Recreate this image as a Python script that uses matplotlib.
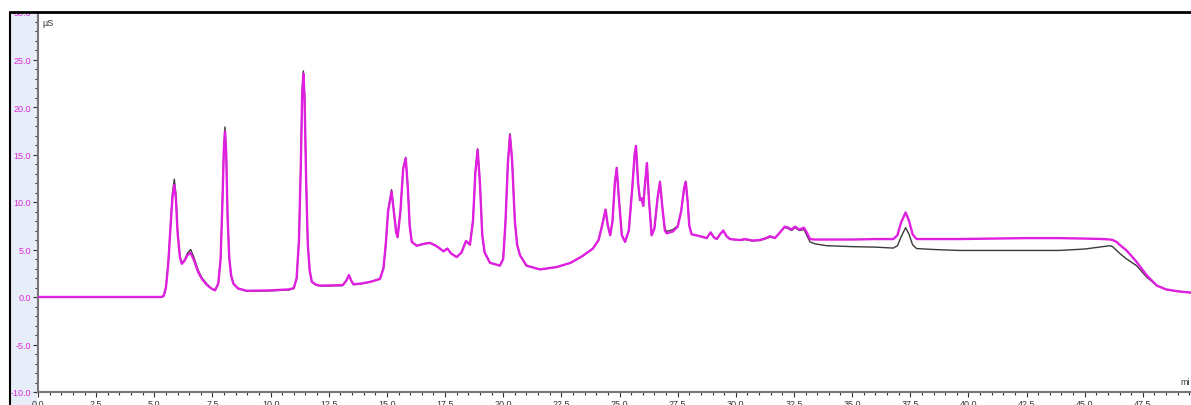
import matplotlib
matplotlib.use("Agg")
import matplotlib.pyplot as plt
from matplotlib.ticker import MultipleLocator, FormatStrFormatter
from matplotlib.patches import Rectangle
from matplotlib.lines import Line2D

# retention time (min)
time_min = [
    0.0, 5.3, 5.4, 5.5, 5.6, 5.7, 5.78, 5.86, 5.93, 6.0, 6.1, 6.18, 6.3, 6.42, 6.56,
    6.7, 6.89, 7.05, 7.25, 7.45, 7.61, 7.75, 7.85, 7.93, 7.99, 8.04, 8.09, 8.15, 8.22,
    8.3, 8.4, 8.6, 8.97, 10.0, 10.8, 11.0, 11.12, 11.22, 11.3, 11.36, 11.41, 11.46,
    11.53, 11.6, 11.68, 11.77, 11.95, 12.12, 13.1, 13.25, 13.37, 13.47, 13.56, 13.85,
    14.3, 14.7, 14.85, 14.95, 15.05, 15.2, 15.3, 15.4, 15.46, 15.58, 15.7, 15.81, 15.9,
    15.98, 16.07, 16.28, 16.6, 16.85, 17.1, 17.28, 17.43, 17.6, 17.75, 18.0, 18.21,
    18.4, 18.57, 18.7, 18.8, 18.9, 19.0, 19.1, 19.2, 19.43, 19.86, 20.0, 20.1, 20.2,
    20.29, 20.38, 20.5, 20.6, 20.72, 21.0, 21.58, 22.3, 22.9, 23.4, 23.86, 24.1, 24.25,
    24.4, 24.5, 24.6, 24.7, 24.8, 24.88, 24.97, 25.1, 25.24, 25.4, 25.55, 25.65, 25.71,
    25.8, 25.88, 25.95, 26.02, 26.1, 26.18, 26.26, 26.38, 26.5, 26.64, 26.74, 26.84,
    26.95, 27.03, 27.3, 27.5, 27.65, 27.78, 27.85, 27.93, 28.0, 28.1, 28.46, 28.75,
    28.92, 29.05, 29.18, 29.32, 29.46, 29.6, 29.75, 30.18, 30.4, 30.7, 31.04, 31.3,
    31.47, 31.68, 31.9, 32.1, 32.25, 32.4, 32.55, 32.73, 32.93, 33.05, 33.19, 33.4,
    33.9, 35.0, 36.0, 36.77, 36.95, 37.1, 37.3, 37.45, 37.6, 37.77, 38.5, 39.6, 41.0,
    42.5, 43.9, 45.0, 45.8, 46.09, 46.2, 46.37, 46.5, 46.8, 47.23, 47.66, 48.1, 48.5,
    49.0, 49.6,
]

# conductivity (uS), magenta trace
signal_pink = [
    0.0, 0.0, 0.1, 1.0, 3.5, 7.5, 10.5, 11.8, 10.3, 6.8, 4.2, 3.5, 3.8, 4.4, 4.65,
    3.9, 2.6, 1.9, 1.3, 0.9, 0.7, 1.4, 4.0, 10.0, 15.5, 17.4, 15.2, 8.5, 4.2,
    2.3, 1.4, 0.9, 0.65, 0.7, 0.8, 0.95, 2.0, 6.0, 14.0, 21.5, 23.5, 21.0,
    12.0, 5.5, 2.8, 1.6, 1.3, 1.2, 1.25, 1.7, 2.3, 1.7, 1.35, 1.4,
    1.6, 1.9, 3.0, 5.5, 9.0, 11.1, 9.0, 6.8, 6.3, 9.0, 13.5, 14.6, 11.5,
    7.5, 5.8, 5.4, 5.6, 5.7, 5.4, 5.1, 4.8, 5.1, 4.6, 4.2, 4.7,
    5.9, 5.5, 8.0, 13.0, 15.5, 12.0, 6.5, 4.7, 3.6, 3.3, 4.0, 8.0, 14.0,
    17.0, 14.5, 8.0, 5.5, 4.4, 3.3, 2.9, 3.15, 3.6, 4.3, 5.1, 6.0, 7.5,
    9.2, 7.5, 6.5, 8.0, 12.0, 13.6, 10.5, 6.5, 5.8, 7.0, 11.5, 15.0, 15.9,
    12.0, 10.2, 10.4, 9.6, 12.0, 14.1, 10.5, 6.5, 7.2, 10.5, 12.1, 9.5,
    7.0, 6.7, 6.9, 7.4, 9.0, 11.5, 12.1, 10.0, 7.5, 6.6, 6.4, 6.2,
    6.8, 6.3, 6.1, 6.6, 7.0, 6.4, 6.1, 6.0, 6.1, 5.95, 6.0, 6.2,
    6.4, 6.2, 6.8, 7.4, 7.3, 7.1, 7.4, 7.1, 7.3, 6.8, 6.1, 6.05,
    6.05, 6.05, 6.1, 6.1, 6.5, 7.8, 8.9, 8.0, 6.6, 6.1, 6.1, 6.1, 6.15,
    6.2, 6.2, 6.15, 6.1, 6.05, 6.0, 5.8, 5.5, 4.9, 3.7, 2.3, 1.2, 0.8,
    0.6, 0.45,
]

# conductivity (uS), black trace
signal_black = [
    0.0, 0.0, 0.1, 1.0, 3.6, 7.7, 10.9, 12.4, 10.8, 7.0, 4.3, 3.6, 3.9, 4.6, 5.0,
    4.2, 2.8, 2.0, 1.4, 0.9, 0.7, 1.4, 4.0, 10.2, 15.8, 17.9, 15.5, 8.6, 4.2,
    2.3, 1.4, 0.9, 0.6, 0.65, 0.75, 0.9, 2.0, 6.0, 14.2, 21.8, 23.8, 21.3,
    12.2, 5.5, 2.8, 1.6, 1.25, 1.15, 1.2, 1.7, 2.3, 1.7, 1.3, 1.35,
    1.6, 1.9, 3.0, 5.5, 9.1, 11.3, 9.0, 6.8, 6.3, 9.0, 13.6, 14.7, 11.5,
    7.5, 5.8, 5.4, 5.6, 5.7, 5.4, 5.1, 4.8, 5.1, 4.6, 4.2, 4.7,
    5.9, 5.5, 8.0, 13.0, 15.6, 12.0, 6.5, 4.7, 3.6, 3.3, 4.0, 8.0, 14.1,
    17.2, 14.6, 8.0, 5.5, 4.4, 3.3, 2.9, 3.15, 3.6, 4.3, 5.1, 6.0, 7.5,
    9.2, 7.5, 6.5, 8.0, 12.0, 13.6, 10.5, 6.5, 5.8, 7.0, 11.5, 15.0, 15.9,
    12.0, 10.2, 10.4, 9.6, 12.0, 14.1, 10.5, 6.5, 7.2, 10.5, 12.2, 9.5,
    7.2, 6.9, 7.1, 7.5, 9.0, 11.5, 12.2, 10.0, 7.5, 6.6, 6.4, 6.2,
    6.8, 6.3, 6.1, 6.6, 7.0, 6.4, 6.1, 5.95, 6.05, 5.9, 5.95, 6.15,
    6.3, 6.2, 6.8, 7.35, 7.2, 7.0, 7.3, 7.0, 7.1, 6.5, 5.8, 5.6,
    5.4, 5.3, 5.25, 5.15, 5.4, 6.3, 7.3, 6.6, 5.5, 5.1, 5.0, 4.9, 4.9,
    4.9, 4.9, 5.05, 5.3, 5.4, 5.3, 4.9, 4.6, 4.0, 3.3, 2.1, 1.2, 0.8,
    0.6, 0.45,
]

W, H = 1191, 406
fig = plt.figure(figsize=(W / 100, H / 100), dpi=100)
plt.rcParams['font.family'] = ['Liberation Sans', 'DejaVu Sans']

# left grey-blue strip behind the y axis labels
fig.add_artist(Rectangle((10 / W, 0), 27 / W, 1, transform=fig.transFigure,
                         facecolor='#e7eef9', edgecolor='none', zorder=0))
fig.add_artist(Line2D([10 / W, 10 / W], [0, 1 - 13 / H], transform=fig.transFigure,
                      color='black', lw=1.5, zorder=0.5))

ax = fig.add_axes([38 / W, 13 / H, (W - 38) / W, 380 / H])
ax.set_facecolor('white')

ax.plot(time_min, signal_black, color='#3a3a3a', lw=1.0, zorder=2,
        solid_joinstyle='round')
ax.plot(time_min, signal_pink, color='#e020e0', lw=1.7, zorder=3,
        solid_joinstyle='round')

ax.set_xlim(0, (W - 38) / 23.26)
ax.set_ylim(-10, 30)

ax.xaxis.set_major_locator(MultipleLocator(2.5))
ax.xaxis.set_minor_locator(MultipleLocator(0.5))
ax.yaxis.set_major_locator(MultipleLocator(5))
ax.yaxis.set_minor_locator(MultipleLocator(1))
ax.xaxis.set_major_formatter(FormatStrFormatter('%.1f'))
ax.yaxis.set_major_formatter(FormatStrFormatter('%.1f'))

ax.tick_params(axis='both', which='major', length=3.5, width=0.8, color='#333333',
               labelsize=6.5, pad=1.5)
ax.tick_params(axis='both', which='minor', length=2, width=0.8, color='#333333')
ax.tick_params(axis='y', labelcolor='#d82ad8')
ax.tick_params(axis='x', labelcolor='#333333')

for side in ['left', 'bottom']:
    ax.spines[side].set_color('#777777')
    ax.spines[side].set_linewidth(1.5)
ax.spines['right'].set_visible(False)
ax.spines['top'].set_visible(False)

ax.text(0.004, 0.985, 'µS', transform=ax.transAxes, fontsize=6.5, color='#333333',
        ha='left', va='top')
ax.text(0.999, 0.015, 'mi', transform=ax.transAxes, fontsize=6.5, color='#333333',
        ha='right', va='bottom')

# white band at the top with the heavy black border line
fig.add_artist(Rectangle((0, 1 - 13 / H), 1, 13 / H, transform=fig.transFigure,
                         facecolor='white', edgecolor='none', zorder=10))
fig.add_artist(Line2D([10 / W, 1], [1 - 13 / H, 1 - 13 / H], transform=fig.transFigure,
                      color='black', lw=2, zorder=11))

fig.savefig('out.png', dpi=100)
